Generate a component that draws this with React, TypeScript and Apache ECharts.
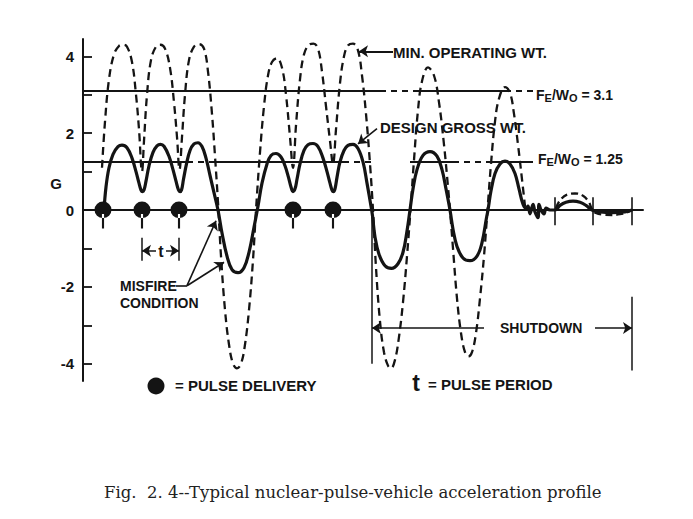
import React, { useEffect, useRef } from 'react';
import * as echarts from 'echarts';

// time in arbitrary units (one pulse period t is about 3.8 units), G = acceleration
const designGrossWt: [number, number][] = [
  [2.1, 0], [2.3, 0.6], [2.6, 1.1], [3.0, 1.45], [3.5, 1.65], [3.9, 1.69], [4.4, 1.62], [4.9, 1.35],
  [5.3, 1.0], [5.6, 0.7], [5.8, 0.52], [5.95, 0.48], [6.1, 0.52], [6.3, 0.75], [6.6, 1.15], [7.0, 1.5],
  [7.4, 1.67], [7.75, 1.71], [8.1, 1.66], [8.6, 1.4], [9.0, 1.05], [9.3, 0.75], [9.55, 0.52], [9.7, 0.48],
  [9.85, 0.52], [10.05, 0.8], [10.35, 1.2], [10.7, 1.55], [11.1, 1.72], [11.5, 1.75], [11.9, 1.65],
  [12.3, 1.35], [12.7, 0.9], [13.1, 0.45], [13.5, 0], [13.9, -0.6], [14.4, -1.2], [14.9, -1.55],
  [15.5, -1.63], [16.1, -1.5], [16.6, -1.1], [17.1, -0.45], [17.5, 0.1], [17.9, 0.7], [18.4, 1.2],
  [18.8, 1.42], [19.3, 1.47], [19.8, 1.38], [20.2, 1.15], [20.55, 0.85], [20.8, 0.6], [21.0, 0.48],
  [21.2, 0.55], [21.4, 0.8], [21.7, 1.2], [22.1, 1.55], [22.5, 1.7], [23.0, 1.73], [23.5, 1.65],
  [24.0, 1.35], [24.4, 1.0], [24.7, 0.7], [24.9, 0.52], [25.05, 0.48], [25.2, 0.55], [25.4, 0.85],
  [25.7, 1.25], [26.1, 1.55], [26.5, 1.68], [27.0, 1.71], [27.5, 1.6], [28.0, 1.25], [28.4, 0.7],
  [28.8, 0.1], [28.95, -0.15], [29.2, -0.7], [29.6, -1.15], [30.2, -1.45], [30.85, -1.52], [31.5, -1.4],
  [32.0, -1.1], [32.4, -0.55], [32.7, 0], [33.0, 0.55], [33.4, 1.05], [34.0, 1.42], [34.7, 1.52],
  [35.4, 1.4], [35.9, 1.05], [36.3, 0.55], [36.7, 0], [37.0, -0.5], [37.4, -0.95], [38.0, -1.25],
  [38.7, -1.32], [39.4, -1.2], [39.9, -0.85], [40.35, -0.2], [40.5, 0], [40.8, 0.5], [41.2, 0.95],
  [41.7, 1.2], [42.2, 1.27], [42.7, 1.2], [43.2, 0.95], [43.6, 0.55], [44.0, 0.15], [44.3, 0.05],
  [44.5, 0.1], [44.7, -0.1], [45.0, 0.15], [45.2, -0.05], [45.5, -0.2], [45.6, 0.15], [45.8, 0],
  [46.1, -0.1], [46.3, 0.05], [46.7, 0], [47.2, 0], [47.7, 0.12], [48.3, 0.2], [49.0, 0.23],
  [49.7, 0.2], [50.3, 0.12], [50.9, 0], [51.7, -0.05], [52.9, -0.07], [54.2, -0.05], [54.9, 0],
];

const minOperatingWt: [number, number][] = [
  [1.9, 1.1], [2.2, 2.3], [2.6, 3.4], [3.1, 4.05], [3.6, 4.27], [4.0, 4.3], [4.4, 4.25], [4.9, 3.85],
  [5.3, 3.0], [5.6, 2.1], [5.9, 1.0], [6.1, 1.8], [6.4, 3.0], [6.8, 3.9], [7.3, 4.25], [7.75, 4.3],
  [8.2, 4.2], [8.7, 3.7], [9.1, 2.8], [9.4, 1.9], [9.65, 1.05], [9.9, 1.9], [10.2, 3.0], [10.6, 3.9],
  [11.1, 4.25], [11.6, 4.32], [12.1, 4.2], [12.5, 3.6], [12.9, 2.5], [13.2, 1.4], [13.5, 0.2],
  [13.8, -1.2], [14.2, -2.6], [14.6, -3.5], [15.0, -4.0], [15.4, -4.12], [15.8, -4.0], [16.2, -3.5],
  [16.6, -2.6], [17.0, -1.3], [17.3, 0], [17.7, 1.5], [18.1, 2.7], [18.5, 3.5], [18.9, 3.85],
  [19.4, 3.95], [19.9, 3.7], [20.3, 3.0], [20.7, 1.9], [21.0, 1.1], [21.3, 2.2], [21.7, 3.4],
  [22.1, 4.05], [22.6, 4.3], [23.05, 4.33], [23.5, 4.2], [23.9, 3.6], [24.3, 2.7], [24.7, 1.8],
  [25.0, 1.2], [25.3, 2.1], [25.7, 3.3], [26.1, 4.0], [26.5, 4.28], [27.0, 4.33], [27.5, 4.15],
  [27.9, 3.5], [28.3, 2.5], [28.7, 1.2], [29.0, 0], [29.3, -1.5], [29.7, -2.9], [30.1, -3.7],
  [30.5, -4.05], [30.8, -4.12], [31.2, -3.9], [31.6, -3.3], [32.0, -2.4], [32.4, -1.2], [32.75, 0],
  [33.1, 1.3], [33.5, 2.6], [33.9, 3.35], [34.5, 3.71], [35.1, 3.5], [35.6, 2.8], [36.1, 1.7],
  [36.5, 0.6], [36.7, 0], [37.0, -1.0], [37.4, -2.3], [37.8, -3.2], [38.2, -3.7], [38.55, -3.81],
  [38.9, -3.7], [39.3, -3.2], [39.7, -2.3], [40.1, -1.2], [40.45, 0], [40.8, 1.2], [41.2, 2.3],
  [41.6, 2.9], [42.2, 3.2], [42.7, 3.05], [43.1, 2.5], [43.5, 1.7], [43.9, 0.8], [44.2, 0.1],
];

const minOperatingTail: [number, number][] = [
  [47.3, 0.05], [47.7, 0.25], [48.4, 0.4], [49.2, 0.43], [50.0, 0.37], [50.6, 0.2], [50.9, 0.02],
  [51.3, -0.08], [52.0, -0.12], [52.9, -0.13], [53.7, -0.11], [54.4, -0.06], [54.9, 0],
];

const pulseTimes = [2.0, 5.9, 9.6, 21.0, 25.0];
const gTicks = [-4, -3, -2, -1, 0, 1, 2, 3, 4];
const gLabels = [-4, -2, 0, 2, 4];

// F_E / W_O reference lines: [from, to, dashed]
const feWoHigh = 3.1;
const feWoLow = 1.25;
const highSegments: [number, number, boolean][] = [
  [0, 29.7, false], [29.7, 33.2, true], [33.2, 42.2, false], [42.2, 45.2, true],
];
const lowSegments: [number, number, boolean][] = [
  [0, 10.4, false], [10.4, 13, true], [13, 26, false], [26, 29, true],
  [32.7, 37, false], [37, 40.7, true], [40.7, 45, false],
];

const shutdownStart = 28.9;
const shutdownEnd = 54.9;
const tailTicks = [47.2, 51.0, 54.9];

const INK = '#141414';
const SANS = '"Liberation Sans", Arial, sans-serif';

type Pt = [number, number];
const seg = (a: Pt, b: Pt, style: any = {}, arrowStart = false, arrowEnd = false) => [
  { coord: a, lineStyle: { color: INK, width: 1.6, type: 'solid', ...style }, symbol: arrowStart ? 'arrow' : 'none' },
  { coord: b, symbol: arrowEnd ? 'arrow' : 'none' },
];

const subRich = {
  m: { fontFamily: SANS, fontWeight: 'bold', fontSize: 14, lineHeight: 15, verticalAlign: 'top' },
  s: { fontFamily: SANS, fontWeight: 'bold', fontSize: 11, lineHeight: 11, padding: [9, 0, 0, 0], verticalAlign: 'bottom' },
};

const App: React.FC = () => {
  const chartRef = useRef<HTMLDivElement>(null);

  useEffect(() => {
    if (!chartRef.current) return;
    const chart = echarts.init(chartRef.current, undefined, { renderer: 'svg' });

    const refLines: any[] = [];
    highSegments.forEach(([a, b, d]) =>
      refLines.push(seg([a, feWoHigh], [b, feWoHigh], { width: 1.8, type: d ? [6, 5] : 'solid' })));
    lowSegments.forEach(([a, b, d]) =>
      refLines.push(seg([a, feWoLow], [b, feWoLow], { width: 1.8, type: d ? [6, 5] : 'solid' })));

    const annotations: any[] = [
      ...refLines,
      // shutdown bracket
      seg([shutdownStart, 0], [shutdownStart, -4.0], { width: 1.5 }),
      seg([shutdownEnd, -2.26], [shutdownEnd, -4.18], { width: 1.5 }),
      seg([shutdownStart + 1.2, -3.07], [shutdownStart, -3.07], { width: 1.5 }, false, true),
      seg([shutdownStart + 1.2, -3.07], [40.1, -3.07], { width: 1.5 }),
      seg([51.2, -3.07], [shutdownEnd, -3.07], { width: 1.5 }, false, true),
      // pulse period dimension
      seg([pulseTimes[1], -0.72], [pulseTimes[1], -1.32], { width: 1.5 }),
      seg([pulseTimes[2], -0.72], [pulseTimes[2], -1.32], { width: 1.5 }),
      seg([7.3, -1.06], [pulseTimes[1], -1.06], { width: 1.5 }, false, true),
      seg([8.3, -1.06], [pulseTimes[2], -1.06], { width: 1.5 }, false, true),
      // misfire leaders
      seg([9.3, -1.97], [10.4, -1.97], { width: 1.6 }),
      seg([10.4, -1.97], [13.3, -0.28], { width: 1.6 }, false, true),
      seg([10.4, -1.97], [14.1, -1.36], { width: 1.6 }, false, true),
      // curve labels
      seg([31.0, 4.13], [27.6, 4.13], { width: 1.8 }, false, true),
      seg([29.4, 2.12], [27.5, 1.72], { width: 1.6 }, false, true),
      // end ticks on the time axis
      ...tailTicks.map((t) => seg([t, 0.33], [t, -0.4], { width: 1.6 })),
    ];

    const option: any = {
      animation: false,
      backgroundColor: '#ffffff',
      grid: { left: 83, right: 50, top: 39, bottom: 138 },
      xAxis: {
        type: 'value',
        min: 0,
        max: 56,
        axisLine: { onZero: true, lineStyle: { color: INK, width: 2 } },
        axisTick: { show: false },
        axisLabel: { show: false },
        splitLine: { show: false },
      },
      yAxis: {
        type: 'value',
        min: -4.45,
        max: 4.45,
        axisLine: { show: true, lineStyle: { color: INK, width: 2 } },
        axisTick: { show: true, inside: true, length: 9, customValues: gTicks, lineStyle: { color: INK, width: 1.8 } },
        axisLabel: {
          customValues: gLabels,
          margin: 9,
          color: INK,
          fontFamily: SANS,
          fontWeight: 'bold',
          fontSize: 15,
          formatter: (v: number) => String(v),
        },
        splitLine: { show: false },
      },
      series: [
        {
          type: 'line',
          name: 'MIN. OPERATING WT.',
          data: minOperatingWt,
          smooth: 0.4,
          symbol: 'none',
          lineStyle: { color: INK, width: 2.3, type: [8, 5] },
          z: 3,
        },
        {
          type: 'line',
          data: minOperatingTail,
          smooth: 0.4,
          symbol: 'none',
          lineStyle: { color: INK, width: 2.3, type: [7, 4] },
          z: 3,
        },
        {
          type: 'line',
          name: 'DESIGN GROSS WT.',
          data: designGrossWt,
          smooth: 0.4,
          symbol: 'none',
          lineStyle: { color: INK, width: 3.2 },
          z: 4,
          markLine: {
            silent: true,
            symbol: 'none',
            symbolSize: 9,
            label: { show: false },
            emphasis: { disabled: true },
            data: annotations,
          },
        },
        {
          type: 'scatter',
          name: 'PULSE DELIVERY',
          data: pulseTimes.map((t) => [t, 0]),
          symbol: 'path://M0,8 A8,8 0 1,0 16,8 A8,8 0 1,0 0,8 Z M7,12 L9,12 L9,26 L7,26 Z',
          symbolSize: [17, 27],
          symbolOffset: [0, 5],
          itemStyle: { color: INK, opacity: 1 },
          emphasis: { disabled: true },
          z: 6,
        },
      ],
      graphic: [
        { type: 'text', x: 56, y: 183, style: { text: 'G', font: `bold 15px ${SANS}`, fill: INK, align: 'center', verticalAlign: 'middle' } },
        { type: 'text', x: 393, y: 52, style: { text: 'MIN. OPERATING WT.', font: `bold 15px ${SANS}`, fill: INK, verticalAlign: 'middle' } },
        { type: 'text', x: 380, y: 127, style: { text: 'DESIGN GROSS WT.', font: `bold 15px ${SANS}`, fill: INK, verticalAlign: 'middle' } },
        { type: 'text', x: 536, y: 88, style: { text: '{m|F}{s|E}{m|/W}{s|O}{m| = 3.1}', fill: INK, rich: subRich } },
        { type: 'text', x: 538, y: 152, style: { text: '{m|F}{s|E}{m|/W}{s|O}{m| = 1.25}', fill: INK, rich: subRich } },
        { type: 'text', x: 161, y: 251, style: { text: 't', font: `bold 16px ${SANS}`, fill: INK, align: 'center', verticalAlign: 'middle' } },
        { type: 'text', x: 120, y: 286, style: { text: 'MISFIRE', font: `bold 14px ${SANS}`, fill: INK, verticalAlign: 'middle' } },
        { type: 'text', x: 120, y: 303, style: { text: 'CONDITION', font: `bold 14px ${SANS}`, fill: INK, verticalAlign: 'middle' } },
        { type: 'text', x: 500, y: 328, style: { text: 'SHUTDOWN', font: `bold 14px ${SANS}`, fill: INK, verticalAlign: 'middle' } },
        { type: 'circle', shape: { cx: 156, cy: 386, r: 8.5 }, style: { fill: INK } },
        { type: 'text', x: 175, y: 385, style: { text: '= PULSE DELIVERY', font: `bold 15px ${SANS}`, fill: INK, verticalAlign: 'middle' } },
        { type: 'text', x: 416, y: 383, style: { text: 't', font: `bold 23px ${SANS}`, fill: INK, align: 'center', verticalAlign: 'middle' } },
        { type: 'text', x: 428, y: 384, style: { text: '= PULSE PERIOD', font: `bold 15px ${SANS}`, fill: INK, verticalAlign: 'middle' } },
        {
          type: 'text', x: 104, y: 492,
          style: {
            text: 'Fig.  2. 4--Typical nuclear-pulse-vehicle acceleration profile',
            font: '16.5px "DejaVu Serif", serif',
            fill: '#222',
            verticalAlign: 'middle',
          },
        },
      ],
    };

    chart.setOption(option);
    return () => {
      chart.dispose();
    };
  }, []);

  return (
    <div
      ref={chartRef}
      style={{ position: 'absolute', left: 0, top: 0, width: 693, height: 519, background: '#fff' }}
    />
  );
};

export default App;
